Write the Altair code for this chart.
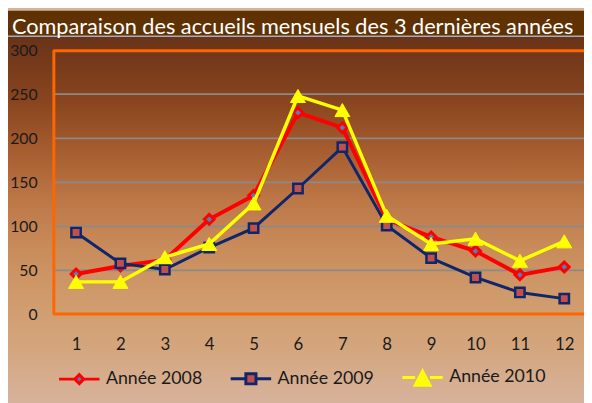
import altair as alt
import pandas as pd

months = list(range(1, 13))
series_names = ["Année 2008", "Année 2009", "Année 2010"]
a2008 = [46, 55, 62, 108, 135, 229, 212, 108, 88, 72, 45, 54]
a2009 = [93, 58, 51, 76, 98, 143, 190, 101, 64, 42, 25, 18]
a2010 = [37, 37, 65, 80, 126, 248, 232, 112, 80, 86, 61, 83]
y_ticks = [0, 50, 100, 150, 200, 250, 300]
grid_values = [50, 100, 150, 200, 250]
title_text = "Comparaison des accueils mensuels des 3 dernières années"

FONT = "Lato"
W, H = 538, 268
PL, PT = 46, 40

rows = []
for name, vals in zip(series_names, [a2008, a2009, a2010]):
    for m, v in zip(months, vals):
        rows.append({"month": m, "value": v, "series": name})
df = pd.DataFrame(rows)

xscale = alt.Scale(domain=[0.4889, 12.4444], zero=False, nice=False)
yscale = alt.Scale(domain=[0, 300], nice=False, zero=True)

xaxis = alt.Axis(values=months, format="d", grid=False, domain=False, ticks=False,
                 labelPadding=30, labelBaseline="middle", labelFontSize=17,
                 labelFont=FONT, labelColor="#1a1a1a", title=None, zindex=1,
                 labelAngle=0)
yaxis = alt.Axis(values=y_ticks, grid=False, domain=False, ticks=False,
                 labelPadding=16.5, labelFontSize=16, labelFont=FONT,
                 labelColor="#1a1a1a", title=None, zindex=1)

one = alt.Data(values=[{"t": title_text}])

bg = alt.Chart(one).mark_rect(
    color=alt.Gradient(
        gradient="linear", x1=0, x2=0, y1=0, y2=1,
        stops=[
            alt.GradientStop(offset=0.0, color="#693318"),
            alt.GradientStop(offset=0.18, color="#89451f"),
            alt.GradientStop(offset=0.31, color="#a55c2e"),
            alt.GradientStop(offset=0.45, color="#bd7747"),
            alt.GradientStop(offset=0.585, color="#c98c5b"),
            alt.GradientStop(offset=0.72, color="#d09b6c"),
            alt.GradientStop(offset=0.86, color="#d4a67e"),
            alt.GradientStop(offset=1.0, color="#d7b29a"),
        ],
    )
).encode(x=alt.value(-PL), x2=alt.value(W), y=alt.value(-14), y2=alt.value(355))

band = alt.Chart(one).mark_rect(color="#603103").encode(
    x=alt.value(-PL), x2=alt.value(W), y=alt.value(-PT), y2=alt.value(-14)
)
band_line = alt.Chart(one).mark_rule(color="#a4adbb", strokeWidth=1.5).encode(
    x=alt.value(-PL), x2=alt.value(W), y=alt.value(-14)
)
title = alt.Chart(one).mark_text(
    align="left", baseline="alphabetic", font=FONT, fontSize=22, color="#ffffff"
).encode(x=alt.value(-PL + 4), y=alt.value(-16.3), text="t:N")

grid = alt.Chart(pd.DataFrame({"value": grid_values})).mark_rule(
    color="#8a8a8a", strokeWidth=1.8
).encode(y=alt.Y("value:Q", scale=yscale, axis=yaxis), x=alt.value(0), x2=alt.value(W))

border_top = alt.Chart(one).mark_rule(color="#ff6600", strokeWidth=3).encode(
    x=alt.value(0), x2=alt.value(W), y=alt.value(0.5)
)
border_left = alt.Chart(one).mark_rule(color="#ff6600", strokeWidth=3).encode(
    x=alt.value(0.5), y=alt.value(0), y2=alt.value(H)
)
border_bottom = alt.Chart(one).mark_rule(color="#ff6600", strokeWidth=3).encode(
    x=alt.value(0), x2=alt.value(W), y=alt.value(H - 0.5)
)

line_colors = ["#ff0000", "#10266a", "#ffff00"]
line_widths = [4, 3, 3.5]
tri_path = "M0,-0.87L1,0.87L-1,0.87Z"
point_specs = [
    dict(shape="diamond", size=100, fill="#4f81bd", stroke="#ff0000", strokeWidth=3),
    dict(shape="square", size=90, fill="#c0504d", stroke="#10266a", strokeWidth=2.5),
    dict(shape=tri_path, size=230, fill="#ffff00", stroke="#ffff00", strokeWidth=1),
]

series_layers = []
for i, name in enumerate(series_names):
    base = alt.Chart(df).transform_filter(alt.datum.series == name)
    enc = dict(
        x=alt.X("month:Q", scale=xscale, axis=xaxis),
        y=alt.Y("value:Q", scale=yscale, axis=yaxis),
    )
    ln = base.mark_line(color=line_colors[i], strokeWidth=line_widths[i]).encode(**enc)
    pt = base.mark_point(filled=True, opacity=1, **point_specs[i]).encode(**enc)
    series_layers += [ln, pt]

leg_paths = [
    "M-1,0L-0.22,0M0.22,0L1,0M-0.22,0L0,-0.22L0.22,0L0,0.22Z",
    "M-1,0L-0.25,0M0.25,0L1,0M-0.25,-0.25L0.25,-0.25L0.25,0.25L-0.25,0.25Z",
    "M-1,0L-0.366,0M0.366,0L1,0M0,-0.32L0.366,0.375L-0.366,0.375Z",
]
leg_fill = ["#4f81bd", "#c0504d", "#ffff00"]
leg_stroke = ["#ff0000", "#10266a", "#ffff00"]
legend = alt.Legend(
    orient="none", legendX=4.3, legendY=309.8, direction="horizontal",
    title=None, padding=0, symbolSize=1681, symbolStrokeWidth=3,
    symbolOpacity=1, labelFont=FONT, labelFontSize=18, labelColor="#1a1a1a",
    labelOffset=5, columnPadding=22, labelLimit=300,
)
leg_layer = alt.Chart(df).transform_filter("false").mark_point(filled=True).encode(
    shape=alt.Shape("series:N", scale=alt.Scale(domain=series_names, range=leg_paths), legend=legend),
    fill=alt.Fill("series:N", scale=alt.Scale(domain=series_names, range=leg_fill), legend=legend),
    stroke=alt.Stroke("series:N", scale=alt.Scale(domain=series_names, range=leg_stroke), legend=legend),
)

chart = alt.layer(
    bg, band, band_line, title, grid, border_top, border_left, border_bottom,
    *series_layers, leg_layer
).properties(
    width=W, height=H,
    autosize=alt.AutoSizeParams(type="none"),
    padding={"left": PL, "top": PT, "right": 0, "bottom": 395 - PT - H},
).configure_view(stroke=None).configure(background="#d7b29a")

chart.save("out.html", embed_options={"renderer": "svg", "actions": False})
